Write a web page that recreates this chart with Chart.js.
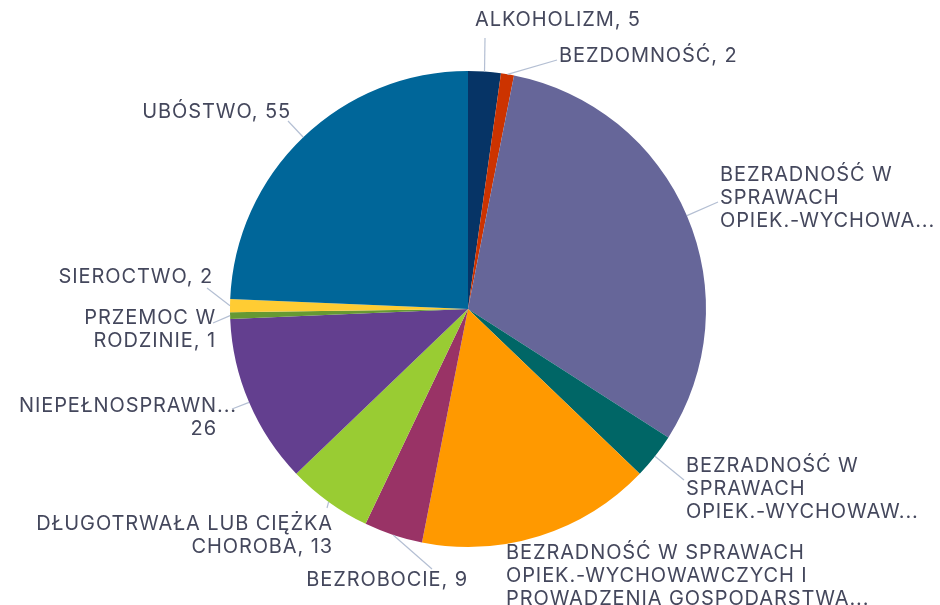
<!DOCTYPE html>
<html>
<head>
<meta charset="utf-8">
<script src="https://cdn.jsdelivr.net/npm/chart.js@4"></script>
<style>
  html, body { margin: 0; padding: 0; background: #fff; }
  #wrap { width: 940px; height: 605px; position: relative; }
</style>
</head>
<body>
<div id="wrap"><canvas id="pieChart"></canvas></div>
<script>
const categories = [
  'ALKOHOLIZM',
  'BEZDOMNOŚĆ',
  'BEZRADNOŚĆ W SPRAWACH OPIEK.-WYCHOWAWCZYCH',
  'BEZRADNOŚĆ W SPRAWACH OPIEK.-WYCHOWAWCZYCH (WIELODZIETNOŚĆ)',
  'BEZRADNOŚĆ W SPRAWACH OPIEK.-WYCHOWAWCZYCH I PROWADZENIA GOSPODARSTWA DOMOWEGO',
  'BEZROBOCIE',
  'DŁUGOTRWAŁA LUB CIĘŻKA CHOROBA',
  'NIEPEŁNOSPRAWNOŚĆ',
  'PRZEMOC W RODZINIE',
  'SIEROCTWO',
  'UBÓSTWO'
];
const values = [5, 2, 70, 7, 36, 9, 13, 26, 1, 2, 55];
// label text as shown (wrapped / truncated like the original)
const labelLines = [
  ['ALKOHOLIZM, 5'],
  ['BEZDOMNOŚĆ, 2'],
  ['BEZRADNOŚĆ W', 'SPRAWACH', 'OPIEK.-WYCHOWA...'],
  ['BEZRADNOŚĆ W', 'SPRAWACH', 'OPIEK.-WYCHOWAW...'],
  ['BEZRADNOŚĆ W SPRAWACH', 'OPIEK.-WYCHOWAWCZYCH I', 'PROWADZENIA GOSPODARSTWA...'],
  ['BEZROBOCIE, 9'],
  ['DŁUGOTRWAŁA LUB CIĘŻKA', 'CHOROBA, 13'],
  ['NIEPEŁNOSPRAWN...', '26'],
  ['PRZEMOC W', 'RODZINIE, 1'],
  ['SIEROCTWO, 2'],
  ['UBÓSTWO, 55']
];
const colors = ['#063466', '#cc3300', '#666699', '#006666', '#ff9900', '#993366',
  '#99cc33', '#633f8f', '#669933', '#ffcc33', '#006699'];

// where each label sits: x, y of first line (middle), alignment, leader end
const labelPlace = [
  { x: 475, y: 20, align: 'left', end: [485, 38] },
  { x: 559, y: 56, align: 'left', end: [557, 60] },
  { x: 720, y: 175, align: 'left', end: [718, 202] },
  { x: 686, y: 466, align: 'left', end: [684, 480] },
  { x: 506, y: 553, align: 'left', end: null },
  { x: 468, y: 580, align: 'right', end: [432, 569] },
  { x: 333, y: 524, align: 'right', end: [327, 508] },
  { x: 237, y: 406, align: 'right', end: [232, 409], lineRight: [237, 217] },
  { x: 216, y: 318, align: 'right', end: [213, 323] },
  { x: 213, y: 277, align: 'right', end: [207, 288] },
  { x: 291, y: 112, align: 'right', end: [288, 121] }
];

const outsideLabels = {
  id: 'outsideLabels',
  afterDatasetsDraw(chart) {
    const ctx = chart.ctx;
    const arcs = chart.getDatasetMeta(0).data;
    ctx.save();
    ctx.font = '20px Inter';
    ctx.letterSpacing = '0.9px';
    ctx.fillStyle = '#44475c';
    ctx.textBaseline = 'middle';
    arcs.forEach((arc, i) => {
      const p = labelPlace[i];
      const mid = (arc.startAngle + arc.endAngle) / 2;
      if (p.end) {
        const sx = arc.x + Math.cos(mid) * arc.outerRadius;
        const sy = arc.y + Math.sin(mid) * arc.outerRadius;
        ctx.strokeStyle = '#b4bfd3';
        ctx.lineWidth = 1.2;
        ctx.beginPath();
        ctx.moveTo(sx, sy);
        ctx.lineTo(p.end[0], p.end[1]);
        ctx.stroke();
      }
      labelLines[i].forEach((line, k) => {
        let x = p.x;
        if (p.lineRight) x = p.lineRight[k];
        ctx.textAlign = p.align;
        ctx.fillText(line, x, p.y + k * 23);
      });
    });
    ctx.restore();
  }
};

new Chart(document.getElementById('pieChart'), {
  type: 'pie',
  data: {
    labels: categories,
    datasets: [{
      data: values,
      backgroundColor: colors,
      borderWidth: 0
    }]
  },
  options: {
    responsive: true,
    maintainAspectRatio: false,
    animation: false,
    layout: { padding: { left: 0, right: 4, top: 71, bottom: 58 } },
    plugins: {
      legend: { display: false },
      tooltip: { enabled: false }
    }
  },
  plugins: [outsideLabels]
});
</script>
</body>
</html>
